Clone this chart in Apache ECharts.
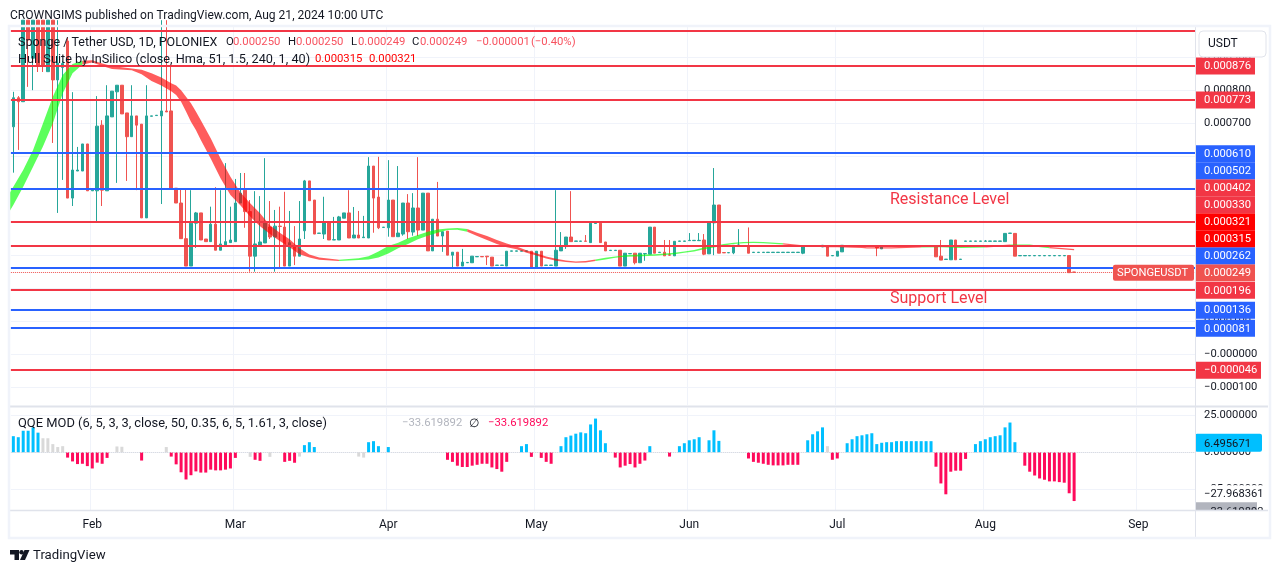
<!DOCTYPE html>
<html><head><meta charset="utf-8">
<style>html,body{margin:0;padding:0;background:#fff}#c{width:1281px;height:573px}</style>
<script src="https://cdn.jsdelivr.net/npm/echarts@6/dist/echarts.min.js"></script>
</head><body><div id="c"></div>
<script>
// prices are in millionths of USDT
const barCount = 240;
const monthIdx = [16,45,76,106,137,167,197,228];
const monthNames = ['Feb','Mar','Apr','May','Jun','Jul','Aug','Sep'];
const opens = [690,778,766,1013,898,1013,1013,857,1013,832,
870,950,474,556,556,638,496,496,695,496,
720,796,816,732,660,723,698,414,722,724,
723,738,738,504,459,351,268,398,429,350,
342,395,316,332,339,342,459,498,433,298,
331,338,386,356,389,386,268,329,298,375,
526,468,367,365,399,347,347,413,429,353,
362,354,353,571,477,385,384,468,357,365,
459,371,444,377,489,314,410,359,374,301,
310,268,278,278,296,297,298,295,270,270,
268,313,313,313,313,313,265,313,270,270,
268,314,327,356,343,343,344,339,397,398,
341,315,315,316,268,305,307,278,305,304,
386,309,310,302,299,343,343,345,345,345,
347,305,399,453,309,308,308,331,330,330,
309,309,309,309,309,309,309,309,309,309,
307,329,329,329,326,329,299,298,311,329,
329,329,329,329,329,329,320,329,329,329,
329,329,329,329,329,329,329,329,298,288,
287,347,288,343,343,343,343,343,343,343,
343,342,367,367,299,299,299,299,299,299,
299,299,299,299,300,250];
const closes = [778,766,1013,953,1013,874,877,1013,832,883,
882,474,559,559,638,496,498,692,498,723,
798,816,729,660,723,695,414,723,723,725,
738,735,503,459,351,268,398,429,347,342,
395,316,335,342,347,459,489,433,298,335,
341,399,356,389,388,268,339,298,350,526,
466,365,368,402,347,348,417,429,353,362,
353,356,571,474,384,386,468,357,368,459,
372,444,377,489,314,410,359,372,301,310,
268,280,279,298,297,296,296,268,271,271,
313,314,314,314,314,265,313,268,271,271,
316,327,356,342,344,344,343,398,398,339,
314,316,316,268,307,306,278,307,306,386,
307,310,299,301,343,344,344,346,346,346,
304,401,453,307,308,309,331,332,329,307,
310,310,310,310,310,310,310,310,310,310,
329,330,330,330,331,298,300,313,331,330,
330,330,330,330,330,323,330,330,330,330,
330,330,330,330,330,330,330,296,286,289,
347,287,289,344,344,344,344,344,344,344,
344,367,368,298,300,300,300,300,300,300,
300,300,300,300,248,249];
const highs = [796,783,1013,1013,1013,1013,1013,1013,1013,1013,
890,960,795,629,638,638,498,783,710,816,
798,816,816,732,816,723,698,816,723,725,
1013,1013,877,504,504,504,498,432,429,350,
448,507,498,580,448,532,550,550,468,495,
480,595,465,438,448,493,435,389,465,529,
526,468,368,478,399,417,420,429,498,447,
435,420,598,571,599,386,589,468,571,459,
486,489,598,489,489,410,523,372,374,310,
310,320,279,298,297,297,298,295,271,271,
313,314,314,314,314,313,313,313,271,271,
498,371,356,495,344,344,362,398,398,398,
341,316,316,316,307,306,307,307,306,386,
386,310,347,347,343,344,344,368,346,368,
365,401,565,453,309,309,331,380,330,385,
310,310,310,310,310,310,310,310,310,310,
329,330,330,330,331,329,300,313,331,330,
330,330,330,330,330,329,330,330,330,330,
330,330,330,330,330,330,330,329,347,289,
347,347,289,344,344,344,344,347,344,344,
344,367,368,367,300,300,300,300,300,300,
300,300,300,300,300,250];
const lows = [551,620,766,811,801,856,856,857,641,429,
529,474,450,556,556,496,496,402,450,496,
720,520,729,526,660,498,414,414,722,724,
456,735,503,459,351,268,268,323,347,342,
342,316,316,332,339,342,459,384,251,251,
331,338,350,251,262,268,268,271,298,350,
466,365,367,350,347,347,347,413,353,353,
353,354,353,369,380,385,357,357,357,360,
350,360,359,377,314,314,359,311,301,262,
268,268,278,278,296,296,271,268,270,270,
268,313,313,313,313,265,265,268,270,270,
268,314,320,342,343,343,343,339,397,339,
314,315,315,268,268,305,273,278,284,304,
307,309,299,299,299,343,343,345,345,345,
301,305,301,307,308,308,304,331,329,307,
309,309,309,309,309,309,309,309,309,309,
304,329,329,329,326,298,299,298,311,329,
329,329,329,329,329,298,320,329,329,329,
329,329,329,329,329,329,329,296,286,288,
287,287,288,343,343,343,343,343,343,343,
343,342,367,298,299,299,299,299,299,299,
299,299,299,299,248,249];

const hullIdx = [-1,0,2,4,6,8,10,12,14,16,18,20,24,26,28,30,32,33,34,35,36,37,38,40,42,44,46,48,50,52,54,56,58,60,62,66,70,72,74,76,78,80,82,84,86,88,90,92,94,96,98,100,102,104,106,108,110,112,114,116,118,120,122,124,126,130,134,136,138,140,142,144,146,148,150,152,156,160,165,167,172,173,178,184,188,192,197,202,206,210,215];
const hullUpper = [483,508,559,620,700,781,847,880,890,892,882,874,867,863,852,839,822,815,801,781,761,736,710,655,594,539,492,458,428,392,369,349,322,303,294,287,292,298,312,329,339,352,362,372,379,382,383,380,369,359,347,336,327,316,307,297,290,285,282,283,288,293,297,301,302,304,308,312,317,324,329,335,339,341,342,341,337,331,328,329,327,325,325,328,329,327,328,333,333,326,320];
const hullLower = [428,453,508,569,630,700,791,852,879,885,874,865,861,849,829,815,798,786,766,736,705,680,650,594,534,483,452,418,389,365,344,325,304,294,287,283,286,288,294,306,322,335,349,360,369,377,378,372,359,347,335,325,319,308,300,291,284,280,278,279,283,288,293,296,297,299,304,308,312,319,324,330,335,337,338,337,333,328,325,325,323,321,321,324,325,323,324,329,329,322,316];
const hullState = 'gggggggggrrrrrrrrrrrrrrrrrrrrrrrrrrrggggggggggggrrrrrrrrrrrrrggggggggggggggggrrrrrrrgggrggrrr'.split('');

const qqeValues = [11,10.3,14.7,14.7,17,13.4,9.6,9.6,5.6,3.6,
4.2,-3.6,-6.2,-8,-7.8,-9.4,-11,-7,-7.8,-3.8,
0,4,3.8,0,0,0,-5.6,0,0,0,
0,3.6,-2.9,-8.2,-13.6,-18.5,-15.6,-13,-13.8,-13.8,
-11.8,-12.3,-12.3,-11.8,-11,-3.8,0,0,-3.1,-5.1,
-5.8,0,-3.1,0,0,-6.5,-5.8,-7.1,-2.9,4.9,
6.9,3.6,0,0,0,0,0,0,0,0,
-2.9,-3.6,6.9,7.6,4.2,0,3.6,0,0,0,
0,0,0,0,0,0,0,0,-5.1,-6.5,
-9.1,-10,-10,-9.1,-8.5,-7.8,-7.8,-10.3,-11.4,-13.2,
-6.5,0,0,4.2,5.6,-3.1,0,-3.8,-6.5,-7.8,
0,4.2,10.3,11.4,12.7,13.6,13,19,23,15,
6.2,0,-3.6,-10.3,-9.1,-8,-10.3,-7.8,-5.6,4.2,
0,0,0,-2.9,0,4.2,6.2,8.2,8.9,10.3,
0,8.2,15,7.8,0,0,0,0,0,-4.2,
-6.5,-7.1,-7.8,-8.5,-8.9,-8.9,-8.9,-8.5,-8.5,-8.5,
0,8.2,12.3,14.3,17,4.2,-5.1,-4.2,0,6.2,
8.9,11,11.6,12.3,13,5.6,6.5,6.9,6.9,7.6,
7.6,7.6,7.6,7.6,7.6,7.6,7.6,-9.8,-21.2,-28.6,
-13.2,-12.5,-12.5,-4.5,0,5.6,7.6,8.9,10.3,11,
11.6,17,20.3,6.9,0,-9.1,-13.2,-15.8,-17.8,-18.7,
-19.8,-19.8,-20.3,-20.7,-27.9,-33.2];
const qqeGrey = [6,7,8,9,10,21,22,31,48,52,58,70,71,165];

const levelRed = [980,876,773,402,330,196,-46];
const levelBlue = [610,502,262,136,81];
const lastPrice = 249;
const priceTicks = [-100,0,100,200,300,400,500,600,700,800,900];
const qqeTicks = [-25,0,25];
const hullTag = [321,315];

const FONT = 'Roboto, "Noto Sans", sans-serif';
const RED='#f23645', BLUE='#2962ff', UP='#26a69a', DOWN='#ef5350', GRID='#f0f3fa', EDGE='#e0e3eb', INK='#131722';
const AXF = 11.2;

const categories = Array.from({length:barCount},(_,i)=>{const k=monthIdx.indexOf(i);return k>=0?monthNames[k]:'d'+i;});
const fmt = v => (v<=0?'\u2212':'') + Math.abs(v/1e6).toFixed(6);
const isMonth = i => monthIdx.indexOf(i)>=0;

// Hull band phases
const phases=[]; let cur=null;
for(let k=1;k<hullIdx.length;k++){
  if(!cur||cur.s!==hullState[k]){cur={s:hullState[k],rows:[k-1]};phases.push(cur);}
  cur.rows.push(k);
}

const chart = echarts.init(document.getElementById('c'),null,{renderer:'canvas'});
chart.setOption({
  animation:false,
  backgroundColor:'#fff',
  grid:[{left:10.87,right:86,top:27,bottom:168},{left:10.87,right:86,top:408,bottom:63}],
  xAxis:[
    {type:'category',gridIndex:0,data:categories,boundaryGap:true,
     axisLine:{show:false},axisTick:{show:false},axisLabel:{show:false},
     splitLine:{show:true,interval:i=>isMonth(i),lineStyle:{color:GRID,width:1}}},
    {type:'category',gridIndex:1,data:categories,boundaryGap:true,
     axisLine:{show:false},axisTick:{show:false},
     axisLabel:{show:true,interval:i=>isMonth(i),formatter:v=>v,color:INK,fontFamily:FONT,fontSize:12,margin:9},
     splitLine:{show:true,interval:i=>isMonth(i),lineStyle:{color:GRID,width:1}}}
  ],
  yAxis:[
    {type:'value',gridIndex:0,position:'right',min:-153,max:992.4,scale:true,
     axisLine:{show:false},axisTick:{show:false,customValues:priceTicks},
     axisLabel:{customValues:priceTicks,formatter:fmt,color:INK,fontFamily:FONT,fontSize:AXF,margin:9,align:'left',padding:[2,0,0,0]},
     splitLine:{show:true,lineStyle:{color:GRID,width:1}}},
    {type:'value',gridIndex:1,position:'right',min:-39.3,max:30.2,
     axisLine:{show:false},axisTick:{show:false,customValues:qqeTicks},
     axisLabel:{customValues:qqeTicks,formatter:v=>(v<0?'\u2212':'')+Math.abs(v).toFixed(6),color:INK,fontFamily:FONT,fontSize:AXF,margin:9,align:'left',padding:[2,0,0,0]},
     splitLine:{show:true,lineStyle:{color:GRID,width:1}}}
  ],
  series:[
    {type:'candlestick',name:'Price',xAxisIndex:0,yAxisIndex:0,barWidth:3,clip:true,z:3,
     data:opens.map((o,i)=>[o,closes[i],lows[i],highs[i]]),
     itemStyle:{color:UP,color0:DOWN,borderColor:UP,borderColor0:DOWN,borderWidth:1}},
    {type:'custom',name:'Hull Suite',xAxisIndex:0,yAxisIndex:0,clip:true,z:4,silent:true,
     data:phases.map((p,i)=>[i]),encode:{x:[],y:[]},
     renderItem:(params,api)=>{
       const p=phases[api.value(0)];
       const up=p.rows.map(k=>api.coord([hullIdx[k],hullUpper[k]]));
       const lo=p.rows.slice().reverse().map(k=>api.coord([hullIdx[k],hullLower[k]]));
       return {type:'polygon',shape:{points:up.concat(lo)},
               style:{fill:p.s==='g'?'rgba(0,255,0,.64)':'rgba(255,0,0,.64)'}};
     }},
    {type:'line',name:'Levels',xAxisIndex:0,yAxisIndex:0,data:[],z:5,
     markLine:{silent:true,symbol:'none',animation:false,z:5,label:{show:false},
       data:[
         ...levelRed.map(v=>({yAxis:v,lineStyle:{color:RED,width:2,type:'solid'}})),
         ...levelBlue.map(v=>({yAxis:v,lineStyle:{color:BLUE,width:2,type:'solid'}})),
         {yAxis:lastPrice,lineStyle:{color:DOWN,width:1,type:'dotted'}}
       ]}},
    {type:'bar',name:'QQE MOD',xAxisIndex:1,yAxisIndex:1,barWidth:3,z:3,
     data:qqeValues.map((v,i)=>({value:v,itemStyle:{color:qqeGrey.indexOf(i)>=0?'#d9d9d9':(v>0?'#00bfff':'#ff0a5b')}})),
     markLine:{silent:true,symbol:'none',animation:false,label:{show:false},
       data:[{yAxis:0,lineStyle:{color:'#d6d8de',width:1,type:'dotted'}}]}}
  ]
});

// right-hand price tags, stacked bottom-up as the price scale does
const pix0 = v => chart.convertToPixel({yAxisIndex:0},v);
const pix1 = v => chart.convertToPixel({yAxisIndex:1},v);
const g=[];
const text=(x,y,t,o={})=>g.push({type:'text',x,y:y+1,z:o.z||50,silent:true,style:Object.assign({text:t,fill:INK,font:`12px ${FONT}`,textVerticalAlign:'middle',textBaseline:'middle'},o.style||{})});
const rect=(x,y,w,h,fill,o={})=>g.push({type:'rect',z:o.z||49,silent:true,shape:{x,y,width:w,height:h,r:o.r||0},style:{fill,stroke:o.stroke||null,lineWidth:o.lw||0}});
const axisText=`${AXF}px ${FONT}`;

const tagLevels = levelRed.filter(v=>v!==980).concat(levelBlue,hullTag,[lastPrice]).sort((a,b)=>a-b);
let prevY=Infinity; const tagY={};
tagLevels.forEach(v=>{const y=Math.min(pix0(v),prevY-17);tagY[v]=y;prevY=y;});
tagLevels.forEach(v=>{
  const y=tagY[v];
  const col= hullTag.indexOf(v)>=0?'#ff0000':(levelBlue.indexOf(v)>=0?BLUE:(v===lastPrice?DOWN:RED));
  rect(1195,y-8,v<0?66:60,17,col);
  text(1204,y,fmt(v),{style:{fill:'#fff',font:axisText}});
});
// symbol tag
rect(1113,tagY[lastPrice]-7.5,81,16,DOWN,{r:2});
text(1117,tagY[lastPrice],'SPONGEUSDT',{style:{fill:'#fff',font:axisText}});

// QQE tags
rect(1195,pix1(6.495671)-9,67,18,'#00bfff',{r:2});
text(1204,pix1(6.495671),'6.495671',{style:{font:axisText}});
rect(1195,pix1(-27.968361)-8,70,16,'#fff');
text(1204,pix1(-27.968361),'\u221227.968361',{style:{font:axisText}});
rect(1195,pix1(-27.968361)+9,62,14,'#b2b5be');
text(1204,pix1(-27.968361)+17.5,'\u221233.619892',{z:51,style:{font:axisText}});
rect(1195,511,72,26,'#fff',{z:52});

// frame
const line=(x1,y1,x2,y2,c,w)=>g.push({type:'line',z:53,silent:true,shape:{x1,y1,x2,y2},style:{stroke:c,lineWidth:w}});
line(10,406.5,1268,406.5,EDGE,2);
line(10,510.5,1268,510.5,EDGE,1.5);
line(1195.5,27,1195.5,537,EDGE,1);
g.push({type:'rect',z:54,silent:true,shape:{x:9,y:26,width:1261,height:512},style:{fill:null,stroke:GRID,lineWidth:2.5}});

// USDT box
rect(1199,31,67,26,'#fff',{r:4,stroke:EDGE,lw:1});
text(1208,43,'USDT');

// headers and legends
text(10,14.5,'CROWNGIMS published on TradingView.com, Aug 21, 2024 10:00 UTC',{style:{font:`12.05px ${FONT}`}});
const V='#f7525f', H='#ff0000';
const small=`11.3px ${FONT}`;
text(18,41.5,'Sponge / Tether USD, 1D, POLONIEX',{z:55,style:{font:`12.5px ${FONT}`}});
[[226,'O',INK],[233,'0.000250',V],[288,'H',INK],[296,'0.000250',V],[351,'L',INK],[358,'0.000249',V],[412,'C',INK],[420,'0.000249',V],[476,'\u22120.000001',V],[531,'(\u22120.40%)',V]]
  .forEach(p=>text(p[0],41.5,p[1],{z:55,style:{fill:p[2],font:small}}));
text(18,58.5,'Hull Suite by InSilico (close, Hma, 51, 1.5, 240, 1, 40)',{z:55,style:{font:`12.7px ${FONT}`}});
text(315,58.5,'0.000315',{z:55,style:{fill:H,font:small}});
text(369,58.5,'0.000321',{z:55,style:{fill:H,font:small}});
text(18,422.5,'QQE MOD (6, 5, 3, 3, close, 50, 0.35, 6, 5, 1.61, 3, close)',{z:55,style:{font:`12.9px ${FONT}`}});
text(402,422.5,'\u221233.619892',{z:55,style:{fill:'#b2b5be',font:small}});
text(469,422.5,'\u2205',{z:55,style:{fill:INK}});
text(488,422.5,'\u221233.619892',{z:55,style:{fill:'#ff0a5b',font:small}});

// annotations
text(890,198.5,'Resistance Level',{style:{fill:RED,font:`16px ${FONT}`}});
text(890,297.5,'Support Level',{style:{fill:RED,font:`16px ${FONT}`}});

// TradingView mark
g.push({type:'polygon',z:55,silent:true,shape:{points:[[10,550],[19,550],[19,560],[14.5,560],[14.5,554.5],[10,554.5]]},style:{fill:INK}});
g.push({type:'circle',z:55,silent:true,shape:{cx:21.5,cy:552.2,r:2.2},style:{fill:INK}});
g.push({type:'polygon',z:55,silent:true,shape:{points:[[24.5,550],[29.5,550],[25,560],[20,560]]},style:{fill:INK}});
text(33,555,'TradingView',{style:{fill:INK,font:`13.2px ${FONT}`}});

chart.setOption({graphic:{elements:g}});
</script></body></html>
